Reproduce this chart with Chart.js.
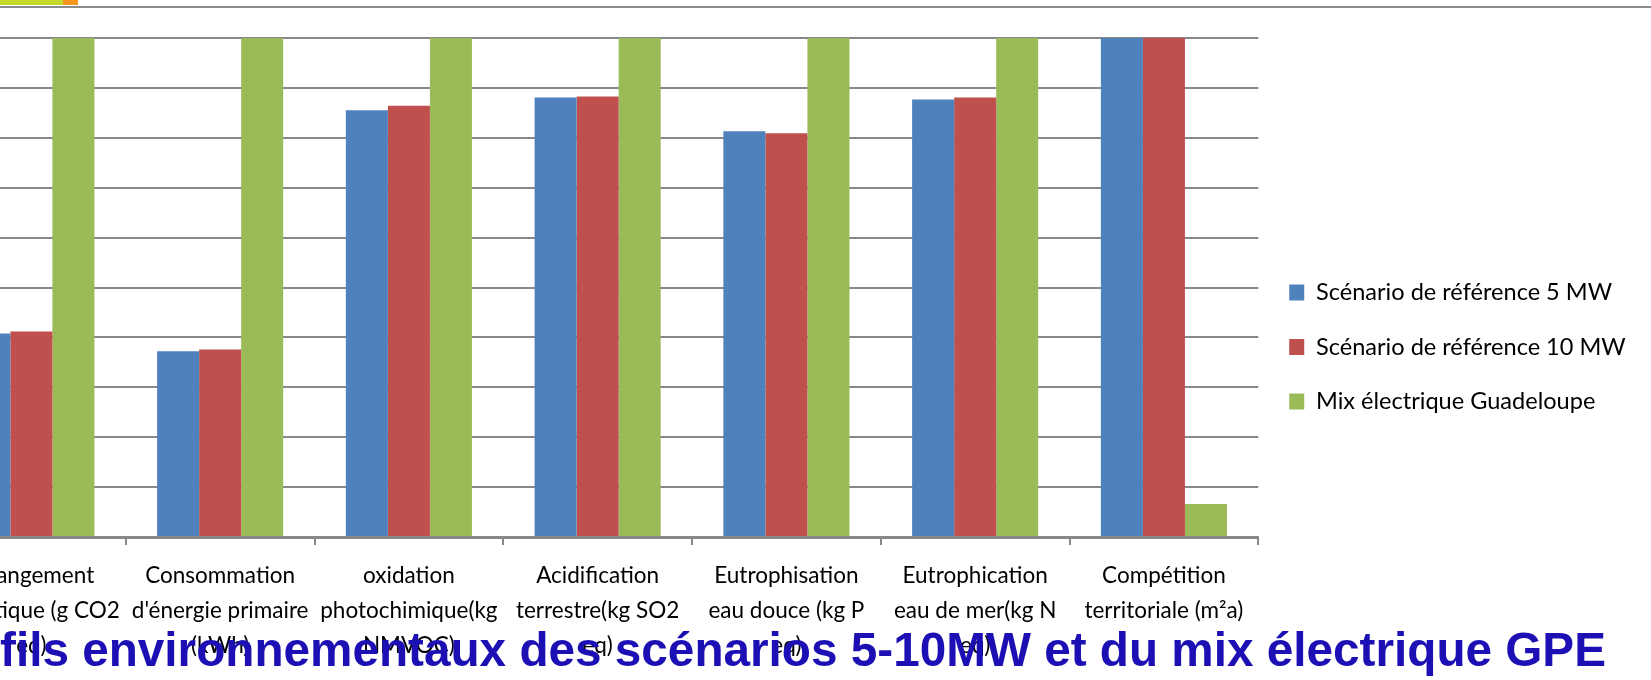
<!DOCTYPE html>
<html><head><meta charset="utf-8">
<script src="https://cdn.jsdelivr.net/npm/chart.js@4.4.1/dist/chart.umd.min.js"></script>
<style>
html,body{margin:0;padding:0;width:1651px;height:680px;overflow:hidden;background:#fff;}
body{position:relative;}
#wrap{position:absolute;left:-83px;top:0;width:1734px;height:680px;}
#topline{position:absolute;left:0;top:6px;width:1651px;height:2px;background:#8c8c8c;}
#logoG{position:absolute;left:0;top:0;width:63px;height:5px;background:#c6d92b;}
#logoO{position:absolute;left:63px;top:0;width:15px;height:5px;background:#f7941d;}
#title{position:absolute;left:0;top:626px;font-family:'Liberation Sans',Arial,sans-serif;font-weight:bold;font-size:47.7px;line-height:48px;color:#1c10b5;white-space:nowrap;}
</style></head><body>
<div id="logoG"></div><div id="logoO"></div><div id="topline"></div>
<div id="wrap"><canvas id="c" width="1734" height="680"></canvas></div>
<div id="title">fils environnementaux des scénarios 5-10MW et du mix électrique GPE</div>
<script>
const categories = [
  ["Changement", "climatique (g CO2", "eq)"],
  ["Consommation", "d'énergie primaire", "(kWh)"],
  ["oxidation", "photochimique(kg", "NMVOC)"],
  ["Acidification", "terrestre(kg SO2", "eq)"],
  ["Eutrophisation", "eau douce (kg P", "eq)"],
  ["Eutrophication", "eau de mer(kg N", "eq)"],
  ["Compétition", "territoriale (m²a)"]
];
const seriesNames = ["Scénario de référence 5 MW", "Scénario de référence 10 MW", "Mix électrique Guadeloupe"];
const ref5MW = [0.408, 0.372, 0.855, 0.881, 0.813, 0.877, 1.0];
const ref10MW = [0.412, 0.376, 0.864, 0.883, 0.809, 0.881, 1.0];
const mixGuadeloupe = [1.0, 1.0, 1.0, 1.0, 1.0, 1.0, 0.066];
const yMin = 0, yMax = 1, yStep = 0.1;

const colors = ["#4f81bd", "#c0504d", "#9bbb59"];

const mctx = document.createElement('canvas').getContext('2d');
function fitSize(text, target, fam) {
  mctx.font = '100px ' + fam;
  return 100 * target / mctx.measureText(text).width;
}
const FAM = 'Lato';
const tickSize = fitSize('Consommation', 150, FAM);
const legendSize = fitSize('Scénario de référence 10 MW', 310, FAM);

const OFFSET = 83;
const CANVAS_W = 1734;
const targetRight = 1258.3 + OFFSET;

const chart = new Chart(document.getElementById('c'), {
  type: 'bar',
  data: {
    labels: categories,
    datasets: [
      { label: seriesNames[0], data: ref5MW, backgroundColor: colors[0], borderWidth: 0 },
      { label: seriesNames[1], data: ref10MW, backgroundColor: colors[1], borderWidth: 0 },
      { label: seriesNames[2], data: mixGuadeloupe, backgroundColor: colors[2], borderWidth: 0 }
    ]
  },
  options: {
    responsive: false,
    animation: false,
    devicePixelRatio: 1,
    categoryPercentage: 0.668,
    barPercentage: 1.0,
    layout: { padding: { left: 20, top: 38, right: 0, bottom: 24 } },
    plugins: {
      title: { display: false },
      tooltip: { enabled: false },
      legend: {
        position: 'right',
        align: 'center',
        maxWidth: 2000,
        labels: {
          boxWidth: 15,
          boxHeight: 16,
          padding: 54.5 - Math.max(legendSize, 16),
          color: '#000',
          font: { family: FAM, size: legendSize }
        }
      }
    },
    scales: {
      x: {
        grid: { offset: true, drawOnChartArea: false, drawTicks: true, tickLength: 8, color: '#888888', lineWidth: 2 },
        border: { display: true, color: '#888888', width: 3 },
        ticks: {
          color: '#000', maxRotation: 0, minRotation: 0, autoSkip: false,
          padding: 13.6,
          font: { family: FAM, size: tickSize, lineHeight: 34.7 / tickSize }
        },
        afterFit: (s) => { s.height = 119; }
      },
      y: {
        min: yMin, max: yMax,
        ticks: { display: false, stepSize: yStep },
        grid: { color: '#888888', lineWidth: 2, drawTicks: false },
        border: { display: false }
      }
    }
  }
});

const lw = chart.legend.width;
const padR = CANVAS_W - targetRight - lw;
if (padR >= 0) {
  chart.options.layout.padding.right = padR;
} else {
  chart.options.plugins.legend.maxWidth = CANVAS_W - targetRight;
}
chart.update();
</script>
</body></html>
